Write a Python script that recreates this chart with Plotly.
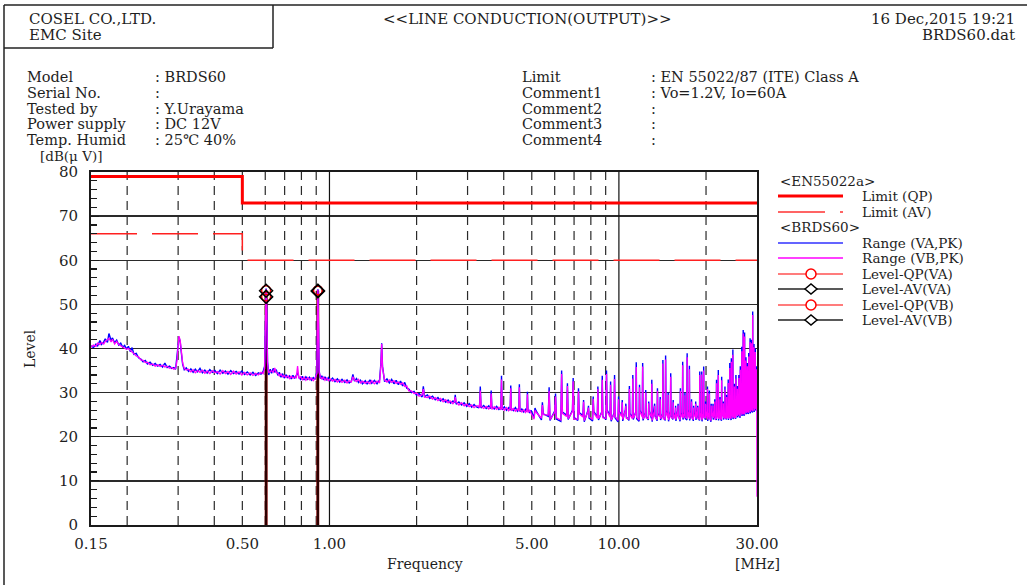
import math
import plotly.graph_objects as go

# ---------------- data ----------------
# Limits (EN 55022 Class A)
LIMIT_F_MHZ = [0.15, 0.5, 0.5, 30.0]
LIMIT_QP = [79, 79, 73, 73]
LIMIT_AV = [66, 66, 60, 60]

# Spectrum 0.15 - 1 MHz
F_LO = [0.150, 0.153, 0.156, 0.158, 0.161, 0.163, 0.166, 0.168, 0.171, 0.173,
        0.176, 0.178, 0.181, 0.184, 0.187, 0.190, 0.193, 0.196, 0.199, 0.202,
        0.205, 0.208, 0.211, 0.215, 0.219, 0.223, 0.227, 0.231, 0.235, 0.240,
        0.245, 0.250, 0.255, 0.260, 0.265, 0.270, 0.275, 0.280, 0.285, 0.290,
        0.294, 0.297, 0.300, 0.302, 0.305, 0.308, 0.311, 0.315, 0.320, 0.326,
        0.332, 0.338, 0.344, 0.350, 0.357, 0.364, 0.371, 0.378, 0.386, 0.394,
        0.402, 0.410, 0.419, 0.428, 0.437, 0.446, 0.456, 0.466, 0.476, 0.487,
        0.498, 0.509, 0.520, 0.532, 0.544, 0.556, 0.568, 0.580, 0.590, 0.597,
        0.601, 0.604, 0.607, 0.611, 0.617, 0.624, 0.631, 0.639, 0.647, 0.655,
        0.663, 0.671, 0.680, 0.689, 0.698, 0.708, 0.718, 0.728, 0.738, 0.748,
        0.758, 0.768, 0.776, 0.784, 0.795, 0.806, 0.817, 0.829, 0.841, 0.853,
        0.866, 0.879, 0.892, 0.905, 0.909, 0.912, 0.915, 0.921, 0.930, 0.941,
        0.953, 0.965, 0.978, 0.991]
VA_LO = [40.6, 40.2, 41.0, 40.5, 41.8, 40.9, 41.5, 42.2, 41.4, 43.4,
         41.8, 42.4, 41.3, 41.9, 40.8, 41.2, 40.3, 40.7, 39.9, 40.5,
         39.3, 40.2, 38.7, 38.9, 37.9, 37.6, 37.0, 37.3, 36.5, 36.9,
         36.2, 36.6, 36.0, 36.4, 35.8, 36.7, 35.7, 36.0, 35.5, 35.7,
         35.3, 37.5, 40.8, 42.6, 41.5, 38.8, 36.4, 35.2, 35.6, 34.8,
         35.4, 34.6, 35.3, 34.7, 35.5, 34.5, 35.1, 34.4, 35.2, 34.6,
         35.0, 34.3, 35.1, 34.4, 34.9, 34.2, 35.0, 34.3, 34.8, 34.2,
         34.9, 34.1, 34.7, 34.0, 34.6, 33.9, 34.5, 34.2, 34.8, 36.0,
         49.5, 53.6, 49.0, 37.0, 34.0, 35.3, 34.4, 35.5, 34.6, 35.2,
         33.9, 34.6, 33.5, 34.3, 33.3, 34.0, 33.4, 33.8, 33.1, 33.9,
         33.2, 34.0, 34.5, 33.5, 33.0, 33.7, 32.9, 33.6, 33.0, 33.5,
         32.8, 33.4, 33.0, 34.8, 50.5, 53.4, 48.0, 35.0, 33.2, 33.8,
         32.9, 33.6, 32.8, 33.4]
VB_LO = [40.3, 40.8, 40.5, 41.2, 40.9, 41.4, 41.0, 41.6, 42.0, 42.3,
         41.5, 42.1, 41.0, 41.6, 40.9, 40.6, 40.5, 40.1, 39.8, 40.0,
         39.6, 39.0, 38.8, 38.3, 38.1, 37.4, 37.3, 36.8, 36.9, 36.3,
         36.5, 36.0, 36.3, 35.9, 36.2, 35.8, 36.0, 35.5, 35.7, 35.3,
         35.5, 37.0, 40.5, 42.8, 41.8, 39.2, 36.7, 35.5, 35.1, 35.3,
         34.7, 35.2, 34.5, 35.0, 34.6, 35.1, 34.4, 34.9, 34.3, 35.0,
         34.5, 34.8, 34.2, 35.0, 34.3, 34.8, 34.1, 34.9, 34.2, 34.7,
         34.0, 34.6, 34.0, 34.5, 33.9, 34.4, 34.0, 34.6, 34.3, 35.5,
         48.5, 53.4, 48.2, 36.5, 34.5, 34.8, 35.0, 34.6, 35.6, 34.5,
         34.4, 33.8, 34.2, 33.6, 33.9, 33.4, 33.8, 33.2, 33.7, 33.3,
         33.6, 33.4, 36.0, 33.2, 33.6, 32.9, 33.5, 32.8, 33.4, 32.9,
         33.3, 32.7, 33.2, 34.3, 49.8, 53.3, 47.5, 34.6, 33.6, 33.1,
         33.5, 32.8, 33.3, 32.7]

# Spectrum 1 - 5 MHz
F_MID = [1.005, 1.025, 1.045, 1.065, 1.085, 1.105, 1.13, 1.15, 1.17, 1.19,
         1.205, 1.22, 1.24, 1.26, 1.28, 1.30, 1.33, 1.35, 1.38, 1.40,
         1.43, 1.46, 1.49, 1.505, 1.515, 1.525, 1.55, 1.58, 1.61, 1.64,
         1.67, 1.70, 1.73, 1.76, 1.79, 1.82, 1.85, 1.88, 1.92, 1.96,
         2.00, 2.04, 2.09, 2.11, 2.13, 2.18, 2.22, 2.27, 2.32, 2.37,
         2.42, 2.47, 2.52, 2.57, 2.62, 2.67, 2.70, 2.72, 2.74, 2.80,
         2.86, 2.92, 2.98, 3.04, 3.10, 3.16, 3.21, 3.27, 3.30, 3.32,
         3.34, 3.41, 3.48, 3.55, 3.60, 3.62, 3.64, 3.71, 3.78, 3.85,
         3.91, 3.93, 3.95, 4.02, 4.09, 4.16, 4.21, 4.23, 4.25, 4.32,
         4.39, 4.46, 4.51, 4.53, 4.55, 4.62, 4.69, 4.76, 4.81, 4.83,
         4.85, 4.92, 4.97]
VA_MID = [32.7, 33.3, 32.5, 33.1, 32.4, 33.0, 32.3, 32.9, 32.2, 32.6,
          34.1, 32.6, 33.2, 32.3, 32.8, 32.0, 32.7, 31.9, 32.9, 32.1,
          32.8, 32.0, 32.9, 36.5, 41.2, 36.0, 32.5, 33.1, 32.2, 33.0,
          32.0, 32.8, 31.8, 32.6, 31.5, 32.3, 31.0, 30.8, 30.0, 30.3,
          29.4, 29.8, 29.0, 31.4, 29.1, 29.5, 28.7, 29.2, 28.4, 28.9,
          28.1, 28.6, 27.8, 28.3, 27.6, 28.1, 27.7, 29.5, 27.4, 27.9,
          27.2, 27.7, 26.9, 27.5, 26.7, 27.3, 26.8, 26.6, 26.9, 31.4,
          26.5, 27.1, 26.4, 27.0, 26.4, 30.5, 26.8, 26.3, 26.9, 26.2,
          26.6, 33.8, 26.1, 26.8, 26.0, 26.6, 26.0, 31.6, 26.4, 25.9,
          26.6, 25.8, 26.3, 31.9, 25.7, 26.3, 25.6, 26.2, 25.7, 30.2,
          26.1, 25.5, 26.0]
VB_MID = [33.1, 32.6, 33.0, 32.4, 32.9, 32.3, 32.8, 32.2, 32.7, 32.4,
          33.6, 32.9, 32.5, 33.0, 32.2, 32.6, 32.1, 32.5, 32.0, 32.7,
          32.0, 32.6, 32.2, 36.0, 41.0, 35.6, 32.9, 32.4, 32.9, 32.3,
          32.7, 32.1, 32.4, 31.9, 32.2, 31.4, 31.5, 30.4, 30.4, 29.8,
          29.9, 29.2, 29.5, 30.8, 29.0, 28.9, 29.2, 28.5, 28.9, 28.2,
          28.7, 27.9, 28.4, 27.7, 28.1, 27.5, 27.9, 29.0, 27.9, 27.2,
          27.7, 27.0, 27.4, 26.8, 27.2, 26.6, 27.0, 27.0, 26.5, 30.5,
          26.9, 26.4, 26.9, 26.3, 26.8, 29.8, 26.2, 26.8, 26.2, 26.7,
          26.1, 33.0, 26.5, 26.0, 26.6, 25.9, 26.5, 31.0, 25.9, 26.4,
          25.8, 26.3, 25.8, 31.2, 26.2, 25.6, 26.1, 25.5, 26.1, 29.6,
          25.5, 26.0, 25.4]

# Spectrum 5 - 30 MHz (switching harmonics with the noise floor beside each)
F_HI = [5.09, 5.13, 5.17, 5.40, 5.44, 5.48, 5.70, 5.74, 5.78,
        6.00, 6.04, 6.08, 6.30, 6.34, 6.38, 6.60, 6.64, 6.68,
        6.91, 6.95, 6.99, 7.21, 7.25, 7.29, 7.51, 7.55, 7.59,
        7.81, 7.85, 7.89, 8.11, 8.15, 8.19, 8.42, 8.46, 8.50,
        8.72, 8.76, 8.80, 9.02, 9.06, 9.10, 9.32, 9.36, 9.40,
        9.62, 9.66, 9.70, 9.93, 9.97, 10.01, 10.23, 10.27, 10.31,
        10.53, 10.57, 10.61, 10.83, 10.87, 10.91, 11.13, 11.17, 11.21,
        11.44, 11.48, 11.52, 11.74, 11.78, 11.82, 12.04, 12.08, 12.12,
        12.34, 12.38, 12.42, 12.64, 12.68, 12.72, 12.95, 12.99, 13.03,
        13.25, 13.29, 13.33, 13.55, 13.59, 13.63, 13.85, 13.89, 13.93,
        14.15, 14.19, 14.23, 14.46, 14.50, 14.54, 14.76, 14.80, 14.84,
        15.06, 15.10, 15.14, 15.36, 15.40, 15.44, 15.66, 15.70, 15.74,
        15.97, 16.01, 16.05, 16.27, 16.31, 16.35, 16.57, 16.61, 16.65,
        16.87, 16.91, 16.95, 17.17, 17.21, 17.25, 17.48, 17.52, 17.56,
        17.78, 17.82, 17.86, 18.08, 18.12, 18.16, 18.38, 18.42, 18.46,
        18.68, 18.72, 18.76, 18.99, 19.03, 19.07, 19.29, 19.33, 19.37,
        19.59, 19.63, 19.67, 19.89, 19.93, 19.97, 20.19, 20.23, 20.27,
        20.50, 20.54, 20.58, 20.80, 20.84, 20.88, 21.10, 21.14, 21.18,
        21.40, 21.44, 21.48, 21.70, 21.74, 21.78, 22.01, 22.05, 22.09,
        22.31, 22.35, 22.39, 22.61, 22.65, 22.69, 22.91, 22.95, 22.99,
        23.21, 23.25, 23.29, 23.52, 23.56, 23.60, 23.82, 23.86, 23.90,
        24.12, 24.16, 24.20, 24.42, 24.46, 24.50, 24.72, 24.76, 24.80,
        25.03, 25.07, 25.11, 25.33, 25.37, 25.41, 25.63, 25.67, 25.71,
        25.93, 25.97, 26.01, 26.23, 26.27, 26.31, 26.54, 26.58, 26.62,
        26.84, 26.88, 26.92, 27.14, 27.18, 27.22, 27.44, 27.48, 27.52,
        27.74, 27.78, 27.82, 28.05, 28.09, 28.13, 28.35, 28.39, 28.43,
        28.65, 28.69, 28.73, 28.95, 28.99, 29.03, 29.25, 29.29, 29.33,
        29.56, 29.60, 29.64, 29.86, 29.90, 29.94, 30.00]
VA_HI = [24.3, 26.5, 25.9, 23.8, 27.8, 25.2, 24.6, 31.2, 23.7,
         25.8, 29.8, 24.0, 23.5, 35.0, 25.6, 24.9, 32.1, 23.9,
         26.0, 33.3, 24.4, 23.7, 31.0, 25.5, 24.8, 28.3, 23.4,
         25.9, 27.0, 24.2, 23.6, 29.1, 25.7, 24.5, 31.4, 23.8,
         25.6, 33.8, 24.6, 23.9, 35.0, 26.1, 24.7, 32.5, 23.5,
         25.4, 34.0, 24.3, 23.4, 29.1, 25.8, 24.9, 28.3, 23.6,
         26.2, 27.5, 24.5, 23.7, 31.5, 25.3, 24.4, 34.0, 23.9,
         25.7, 36.9, 24.1, 23.5, 31.8, 26.0, 24.8, 36.7, 23.7,
         25.5, 30.6, 24.6, 23.8, 28.0, 25.9, 24.2, 32.9, 23.4,
         26.1, 27.5, 24.8, 23.6, 31.0, 25.2, 24.9, 29.0, 23.8,
         25.3, 37.4, 24.4, 23.7, 38.4, 26.0, 24.6, 30.0, 23.5,
         25.8, 34.4, 24.7, 23.9, 28.3, 25.5, 24.3, 27.0, 23.6,
         26.0, 27.5, 24.9, 23.5, 31.0, 25.4, 24.7, 37.0, 23.9,
         25.6, 30.0, 24.2, 23.8, 38.9, 26.1, 24.5, 36.1, 23.7,
         25.9, 28.5, 24.6, 23.6, 27.0, 25.3, 24.8, 28.0, 23.8,
         26.2, 27.0, 24.4, 23.7, 34.8, 25.7, 24.4, 34.8, 23.5,
         25.5, 35.9, 24.8, 23.9, 28.0, 26.0, 24.6, 31.4, 23.6,
         25.8, 30.5, 24.5, 23.4, 27.5, 25.6, 24.9, 27.5, 23.9,
         26.1, 28.5, 24.3, 23.8, 32.9, 25.8, 24.5, 35.1, 23.7,
         25.7, 29.0, 24.6, 23.6, 33.6, 26.2, 24.8, 28.0, 23.9,
         25.4, 31.4, 24.5, 23.9, 29.5, 25.9, 24.6, 33.0, 23.8,
         26.0, 36.7, 24.7, 23.8, 37.8, 25.6, 24.9, 39.8, 24.0,
         25.8, 32.0, 24.6, 24.1, 34.0, 26.3, 25.2, 31.5, 24.4,
         26.5, 34.0, 24.9, 24.3, 36.0, 26.8, 25.6, 40.4, 24.7,
         26.9, 44.2, 25.0, 24.8, 43.6, 27.2, 26.0, 38.0, 25.1,
         27.3, 36.7, 25.4, 25.2, 39.0, 27.6, 26.4, 42.3, 25.3,
         27.8, 42.0, 25.9, 25.5, 48.4, 27.9, 26.8, 41.0, 25.6,
         28.1, 40.0, 26.2, 25.9, 36.0, 28.0, 30.5]
VB_HI = [24.0, 26.0, 25.6, 24.2, 27.2, 25.0, 24.9, 30.4, 23.9,
         25.5, 29.1, 24.3, 23.8, 34.2, 25.3, 24.6, 31.5, 24.1,
         25.7, 32.6, 24.0, 24.0, 30.3, 25.2, 24.5, 27.9, 23.7,
         25.6, 26.6, 24.5, 23.9, 28.6, 25.4, 24.2, 30.8, 24.1,
         25.3, 32.9, 24.3, 24.2, 34.2, 25.8, 24.4, 31.8, 23.8,
         25.1, 33.1, 24.6, 23.7, 28.5, 25.5, 24.6, 27.8, 23.9,
         25.9, 27.0, 24.2, 24.0, 30.8, 25.0, 24.1, 33.2, 24.2,
         25.4, 35.8, 24.4, 23.8, 31.2, 25.7, 24.5, 35.9, 24.0,
         25.2, 30.0, 24.3, 24.1, 27.6, 25.6, 24.5, 32.0, 23.7,
         25.8, 27.0, 24.5, 23.9, 30.4, 24.9, 24.6, 28.5, 24.1,
         25.0, 36.6, 24.1, 24.0, 37.5, 25.7, 24.3, 29.5, 23.8,
         25.5, 33.6, 24.4, 24.2, 27.8, 25.2, 24.0, 26.6, 23.9,
         25.7, 27.1, 24.6, 23.8, 30.4, 25.1, 24.4, 36.2, 24.2,
         25.3, 29.4, 24.5, 24.1, 38.0, 25.8, 24.2, 35.3, 24.0,
         25.6, 28.0, 24.3, 23.9, 26.6, 25.0, 24.5, 27.5, 24.1,
         25.9, 26.7, 24.1, 24.0, 34.0, 25.4, 24.1, 34.1, 23.8,
         25.2, 35.0, 24.5, 24.2, 27.5, 25.7, 24.3, 30.8, 23.9,
         25.5, 29.8, 24.2, 23.7, 27.1, 25.3, 24.6, 27.0, 24.2,
         25.8, 28.0, 24.0, 24.1, 32.1, 25.5, 24.2, 34.0, 24.0,
         25.4, 28.5, 24.3, 23.9, 32.8, 25.9, 24.5, 27.6, 24.2,
         25.1, 30.7, 24.2, 24.2, 29.0, 25.6, 24.3, 32.2, 24.1,
         25.7, 35.6, 24.4, 24.1, 37.0, 25.3, 24.6, 38.6, 24.3,
         25.5, 31.4, 24.3, 24.4, 33.2, 26.0, 24.9, 30.9, 24.7,
         26.2, 33.3, 25.2, 24.6, 35.2, 26.5, 25.3, 39.4, 25.0,
         26.6, 43.4, 25.3, 25.1, 42.7, 26.9, 25.7, 37.3, 25.4,
         27.0, 36.0, 25.7, 25.5, 38.2, 27.3, 26.1, 41.5, 25.6,
         27.5, 41.2, 26.2, 25.8, 47.6, 27.6, 26.5, 40.3, 25.9,
         27.8, 39.2, 26.5, 26.2, 35.3, 27.7, 6.4]

# Final measurement results (QP / AV) at the two peaks
LEVEL_F_MHZ = [0.604, 0.912]
LEVEL_QP_VA = [53.2, 53.2]
LEVEL_AV_VA = [53.1, 53.1]
LEVEL_QP_VB = [51.8, 53.1]
LEVEL_AV_VB = [51.7, 53.0]

# Axis ticks / grid
X_TICKS = [0.15, 0.5, 1.0, 5.0, 10.0, 30.0]
X_TICK_TEXT = ["0.15", "0.50", "1.00", "5.00", "10.00", "30.00"]
GRID_DASHED_MHZ = [0.2, 0.3, 0.4, 0.5, 0.6, 0.7, 0.8, 0.9, 2, 3, 4, 5, 6, 7, 8, 9, 20]
GRID_SOLID_MHZ = [1, 10]

assert len(F_LO) == len(VA_LO) == len(VB_LO), (len(F_LO), len(VA_LO), len(VB_LO))
assert len(F_MID) == len(VA_MID) == len(VB_MID), (len(F_MID), len(VA_MID), len(VB_MID))
assert len(F_HI) == len(VA_HI) == len(VB_HI), (len(F_HI), len(VA_HI), len(VB_HI))

FREQ = F_LO + F_MID + F_HI
VA_PK = VA_LO + VA_MID + VA_HI
VB_PK = VB_LO + VB_MID + VB_HI

# ---------------- layout helpers ----------------
W, H = 1027, 585
L, R, T, B = 91, 757, 172, 525
SERIF = "DejaVu Serif"
TXT = "#1e1e1e"


def P(x, y):
    return (x - L) / (R - L), (B - y) / (B - T)


def note(s, x, y, anchor="left", size=14.5, angle=0):
    px, py = P(x, y)
    return dict(text=s, x=px, y=py, xref="paper", yref="paper", xanchor=anchor,
                yanchor="middle", showarrow=False, textangle=angle,
                font=dict(family=SERIF, size=size, color=TXT))


def seg(x0, y0, x1, y1, color, width, dash="solid"):
    a, b = P(x0, y0)
    c, d = P(x1, y1)
    return dict(type="line", xref="paper", yref="paper", x0=a, y0=b, x1=c, y1=d,
                line=dict(color=color, width=width, dash=dash), layer="above")


def sticks(fs, levels):
    xs, ys = [], []
    for f, v in zip(fs, levels):
        xs += [f, f, None]
        ys += [0, v, None]
    return xs, ys


fig = go.Figure()

# vertical grid lines
gx, gy = sticks(GRID_DASHED_MHZ, [80] * len(GRID_DASHED_MHZ))
fig.add_trace(go.Scatter(x=gx, y=gy, mode="lines", hoverinfo="skip", showlegend=False,
                         line=dict(color="#2a2a2a", width=1.2, dash="9px,6px")))
gx, gy = sticks(GRID_SOLID_MHZ, [80] * len(GRID_SOLID_MHZ))
fig.add_trace(go.Scatter(x=gx, y=gy, mode="lines", hoverinfo="skip", showlegend=False,
                         line=dict(color="#111111", width=1.2)))

# limits
fig.add_trace(go.Scatter(x=LIMIT_F_MHZ, y=LIMIT_QP, mode="lines", name="Limit (QP)",
                         line=dict(color="#ff0000", width=3), showlegend=False))
fig.add_trace(go.Scatter(x=LIMIT_F_MHZ, y=LIMIT_AV, mode="lines", name="Limit (AV)",
                         line=dict(color="#ff2020", width=1.5, dash="46px,15px"),
                         showlegend=False))

# level sticks
for lv in [LEVEL_QP_VA, LEVEL_QP_VB]:
    sx, sy = sticks(LEVEL_F_MHZ, lv)
    fig.add_trace(go.Scatter(x=sx, y=sy, mode="lines", showlegend=False, hoverinfo="skip",
                             line=dict(color="#e00000", width=2.4)))
for lv in [LEVEL_AV_VA, LEVEL_AV_VB]:
    sx, sy = sticks(LEVEL_F_MHZ, lv)
    fig.add_trace(go.Scatter(x=sx, y=sy, mode="lines", showlegend=False, hoverinfo="skip",
                             line=dict(color="rgba(0,0,0,0.55)", width=2.4)))

# spectra
fig.add_trace(go.Scatter(x=FREQ, y=VA_PK, mode="lines", name="Range (VA,PK)",
                         line=dict(color="#0000ff", width=1.4), showlegend=False))
fig.add_trace(go.Scatter(x=FREQ, y=VB_PK, mode="lines", name="Range (VB,PK)",
                         line=dict(color="#ff00ff", width=1.3), showlegend=False))

# level markers
for lv, nm in [(LEVEL_QP_VA, "Level-QP(VA)"), (LEVEL_QP_VB, "Level-QP(VB)")]:
    fig.add_trace(go.Scatter(x=LEVEL_F_MHZ, y=lv, mode="markers", name=nm, showlegend=False,
                             marker=dict(symbol="circle-open", size=9, color="#ff0000",
                                         line=dict(width=1.5, color="#ff0000"))))
for lv, nm in [(LEVEL_AV_VA, "Level-AV(VA)"), (LEVEL_AV_VB, "Level-AV(VB)")]:
    fig.add_trace(go.Scatter(x=LEVEL_F_MHZ, y=lv, mode="markers", name=nm, showlegend=False,
                             marker=dict(symbol="diamond-open", size=10, color="#000000",
                                         line=dict(width=1.5, color="#000000"))))

# ---------------- annotations (header, info, legend, titles) ----------------
ann = []
ann += [note("COSEL CO.,LTD.", 27, 19, size=15), note("EMC Site", 27, 35, size=15),
        note("<<LINE CONDUCTION(OUTPUT)>>", 381, 19, size=15),
        note("16 Dec,2015 19:21", 1017, 19, anchor="right", size=15),
        note("BRDS60.dat", 1017, 35, anchor="right", size=15)]
info_rows_y = [77, 92.75, 108.5, 124.25, 140]
info_left = ["Model", "Serial No.", "Tested by", "Power supply", "Temp. Humid"]
info_left_v = [": BRDS60", ":", ": Y.Urayama", ": DC 12V", ": 25℃ 40%"]
info_right = ["Limit", "Comment1", "Comment2", "Comment3", "Comment4"]
info_right_v = [": EN 55022/87 (ITE) Class A", ": Vo=1.2V, Io=60A", ":", ":", ":"]
for yy, a, b, c, d in zip(info_rows_y, info_left, info_left_v, info_right, info_right_v):
    ann += [note(a, 25, yy), note(b, 153, yy), note(c, 520, yy), note(d, 649, yy)]
ann += [note("[dB(μ V)]", 38, 155.5, size=13.5),
        note("Level", 30, 349, anchor="center", angle=-90, size=14),
        note("Frequency", 425, 564, anchor="center", size=14),
        note("[MHz]", 757, 564, anchor="center", size=14)]

# legend (drawn beside the plot)
LEG = 13.5
ann += [note("<EN55022a>", 778, 181, size=LEG), note("<BRDS60>", 778, 227, size=LEG)]
leg_rows = [("Limit (QP)", 196), ("Limit (AV)", 212), ("Range (VA,PK)", 243),
            ("Range (VB,PK)", 258), ("Level-QP(VA)", 274), ("Level-AV(VA)", 289),
            ("Level-QP(VB)", 305), ("Level-AV(VB)", 320)]
for s, yy in leg_rows:
    ann.append(note(s, 860, yy, size=LEG))

shapes = []
# header frame
shapes += [seg(4, 5, 1027, 5, "#222", 1.5), seg(4, 5, 4, 585, "#222", 1.5),
           seg(273, 5, 273, 48, "#222", 1.5), seg(4, 48, 273, 48, "#222", 1.5)]
# legend samples
shapes += [seg(778, 196, 843, 196, "#ff0000", 3),
           seg(778, 212, 825, 212, "#ff3030", 1.5), seg(840, 212, 843, 212, "#ff3030", 1.5),
           seg(778, 243, 843, 243, "#3030ff", 1.5),
           seg(778, 258, 843, 258, "#ff00ff", 1.5)]
for yy, kind in [(274, "qp"), (289, "av"), (305, "qp"), (320, "av")]:
    if kind == "qp":
        shapes.append(seg(778, yy, 843, yy, "#ff5050", 1.5))
        a, b = P(806, yy - 5)
        c, d = P(816, yy + 5)
        shapes.append(dict(type="circle", xref="paper", yref="paper", x0=a, y0=d, x1=c, y1=b,
                           line=dict(color="#ff0000", width=1.5), fillcolor="white",
                           layer="above"))
    else:
        shapes.append(seg(778, yy, 843, yy, "#222222", 1.5))
        pts = [P(805, yy), P(811, yy - 5), P(817, yy), P(811, yy + 5)]
        path = "M " + " L ".join(f"{p[0]:.5f},{p[1]:.5f}" for p in pts) + " Z"
        shapes.append(dict(type="path", xref="paper", yref="paper", path=path,
                           line=dict(color="#000000", width=1.5), fillcolor="white",
                           layer="above"))

fig.update_layout(
    width=W, height=H, autosize=False,
    margin=dict(l=L, r=W - R, t=T, b=H - B, pad=0),
    paper_bgcolor="white", plot_bgcolor="white",
    showlegend=False,
    annotations=ann, shapes=shapes,
    font=dict(family=SERIF, size=15, color=TXT),
)
fig.update_xaxes(type="log", range=[math.log10(0.15), math.log10(30)],
                 tickmode="array", tickvals=X_TICKS, ticktext=X_TICK_TEXT,
                 showgrid=False, zeroline=False, ticks="",
                 showline=True, linecolor="#1a1a1a", linewidth=2, mirror=True,
                 tickfont=dict(family=SERIF, size=15, color=TXT), ticklabelstandoff=4)
fig.update_yaxes(range=[0, 80], tickmode="linear", tick0=0, dtick=10,
                 showgrid=True, gridcolor="#2a2a2a", gridwidth=1.3, zeroline=False,
                 showline=True, linecolor="#1a1a1a", linewidth=2, mirror=True,
                 ticks="inside", ticklen=8, tickcolor="#1a1a1a",
                 minor=dict(dtick=2, ticks="inside", ticklen=6, tickcolor="#1a1a1a",
                            tickwidth=1.2, showgrid=False),
                 tickfont=dict(family=SERIF, size=15, color=TXT), ticklabelstandoff=8)

fig.write_html("out.html",
               config={"displayModeBar": False, "staticPlot": True},
               post_script="document.body.style.margin='0px';"
                           "document.body.style.padding='0px';")
